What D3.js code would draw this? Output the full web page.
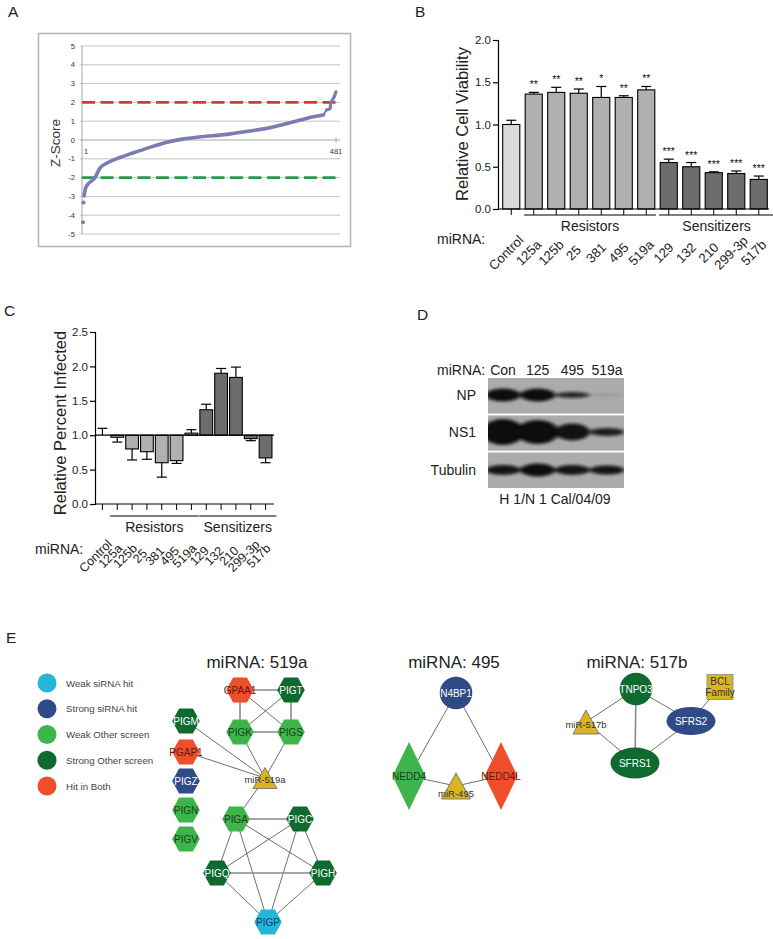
<!DOCTYPE html>
<html><head><meta charset="utf-8">
<script src="https://cdn.jsdelivr.net/npm/d3@7"></script>
<style>body{margin:0;background:#fff}svg{display:block;font-family:"Liberation Sans",Arial,sans-serif}</style>
</head><body><svg id="c" width="773" height="939"></svg>
<script>
// ===== Panel A: ranked Z-scores =====
const zRank  = [1,2,3,6,12,24,33,52,71,97,129,161,192,224,274,318,350,381,413,438,457,463,470,471,476,481];
const zScore = [-4.38,-3.32,-2.97,-2.55,-2.30,-2.00,-1.50,-1.15,-0.93,-0.68,-0.38,-0.12,0.06,0.17,0.30,0.48,0.62,0.83,1.06,1.24,1.33,1.60,1.68,1.94,2.20,2.56];
const zTicks = [-5,-4,-3,-2,-1,0,1,2,3,4,5];
const zThresholds = [2,-2];

// ===== Panels B & C =====
const miRNAs = ["Control","125a","125b","25","381","495","519a","129","132","210","299-3p","517b"];
const miGroup = ["control","res","res","res","res","res","res","sen","sen","sen","sen","sen"];
const viability = [1.00,1.36,1.38,1.37,1.32,1.32,1.41,0.55,0.50,0.43,0.42,0.35];
const viabilityErr = [0.05,0.02,0.06,0.05,0.13,0.02,0.04,0.04,0.05,0.01,0.03,0.04];
const viabilityStars = ["","**","**","**","*","**","**","***","***","***","***","***"];
const viabilityTicks = [0,0.5,1.0,1.5,2.0];
const infected = [1.00,0.97,0.80,0.76,0.60,0.63,1.03,1.37,1.90,1.84,0.95,0.67];
const infectedErr = [0.10,0.07,0.16,0.11,0.21,0.04,0.05,0.08,0.07,0.15,0.03,0.07];
const infectedTicks = [0,0.5,1.0,1.5,2.0,2.5];
const groupNames = ["Resistors","Sensitizers"];

// ===== Panel D: western blot =====
const blotLanes = ["Con","125","495","519a"];
const blotRows = ["NP","NS1","Tubulin"];
const npIntensity = [1.0,1.0,0.85,0.12];
const npThickness = [13,13,6,3];
const ns1Intensity = [1.0,1.0,0.97,0.9];
const ns1Thickness = [26,24,17,8];
const tubIntensity = [0.95,1.0,0.95,0.95];
const tubThickness = [10,13,10,9];
const blotCaption = "H 1/N 1 Cal/04/09";

// ===== Panel E: networks =====
const legendTypes = ["Weak siRNA hit","Strong siRNA hit","Weak Other screen","Strong Other screen","Hit in Both"];
const typeColors = {weakSi:"#22b6d9", strongSi:"#2f4b87", weakOther:"#3db54b", strongOther:"#0f6a30", both:"#ee4e2a", mir:"#d9b521"};
const legendKeys = ["weakSi","strongSi","weakOther","strongOther","both"];
const netTitles = ["miRNA: 519a","miRNA: 495","miRNA: 517b"];
// layout positions (network layout units = px)
const nodes519 = [
  ["GPAA1","both","hex",240,690],["PIGT","strongOther","hex",291,690],
  ["PIGK","weakOther","hex",240,732],["PIGS","weakOther","hex",291,732],
  ["miR-519a","mir","tri",265,778],
  ["PIGM","strongOther","hex",186,721],["PGAP1","both","hex",186,752],["PIGZ","strongSi","hex",186,781],
  ["PIGN","weakOther","hex",186,810],["PIGV","weakOther","hex",186,839],
  ["PIGA","weakOther","hex",236,819],["PIGC","strongOther","hex",300,819],
  ["PIGQ","strongOther","hex",217,873],["PIGH","strongOther","hex",323,873],["PIGP","weakSi","hex",268,922]
];
const edges519 = [
  ["GPAA1","PIGT",1],["GPAA1","PIGK",1],["GPAA1","PIGS",0],["PIGT","PIGK",0],["PIGT","PIGS",1],["PIGK","PIGS",1],
  ["PIGK","miR-519a",0],["PIGS","miR-519a",0],["PIGM","miR-519a",0],["PGAP1","miR-519a",0],["miR-519a","PIGA",0],
  ["PIGA","PIGC",1],["PIGA","PIGQ",0],["PIGA","PIGH",0],["PIGA","PIGP",0],["PIGC","PIGQ",0],["PIGC","PIGH",0],
  ["PIGC","PIGP",0],["PIGQ","PIGH",1],["PIGQ","PIGP",0],["PIGH","PIGP",0]
];
const nodes495 = [
  ["N4BP1","strongSi","circle",456,693],["NEDD4","weakOther","diamond",409,776],
  ["NEDD4L","both","diamond",501,776],["miR-495","mir","tri",456,786]
];
const edges495 = [["N4BP1","NEDD4",0],["N4BP1","NEDD4L",0],["NEDD4","miR-495",0],["NEDD4L","miR-495",0]];
const nodes517 = [
  ["TNPO3","strongOther","circle",636,689],["BCL\nFamily","mir","rect",720,687],
  ["SFRS2","strongSi","ellipse",691,721],["miR-517b","mir","tri",586,722],["SFRS1","strongOther","ellipse",635,763]
];
const edges517 = [["TNPO3","miR-517b",0],["TNPO3","SFRS1",1],["TNPO3","SFRS2",0],["SFRS2","BCL\nFamily",0],["SFRS2","SFRS1",0],["miR-517b","SFRS1",0]];

// =====================================================
const svg = d3.select("#c");
svg.append("rect").attr("width",773).attr("height",939).attr("fill","#fff");
const ink = "#222";

// panel letters
[["A",8,17],["B",415,17],["C",4,316],["D",417,320],["E",6,643]].forEach(([t,x,y])=>
  svg.append("text").attr("x",x).attr("y",y).attr("font-size",15.5).attr("fill",ink).text(t));

// ---------- Panel A ----------
(function(){
  const g = svg.append("g");
  g.append("rect").attr("x",38.5).attr("y",33.5).attr("width",312).attr("height",213)
    .attr("fill","#fff").attr("stroke","#b4b4b4").attr("stroke-width",1.5);
  const x = d3.scaleLinear().domain([1,481]).range([83,336]);
  const y = d3.scaleLinear().domain([-5,5]).range([234,46]);
  zTicks.forEach(t=>{
    g.append("line").attr("x1",80).attr("x2",340).attr("y1",y(t)).attr("y2",y(t))
      .attr("stroke", t===0 ? "#a8a8a8" : "#c4c4c4").attr("stroke-width",1);
    g.append("text").attr("x",75).attr("y",y(t)+2.5).attr("text-anchor","end")
      .attr("font-size",7.5).attr("fill","#333").text(t);
  });
  g.append("line").attr("x1",82).attr("x2",82).attr("y1",y(5)).attr("y2",y(-5)).attr("stroke","#a8a8a8");
  g.append("line").attr("x1",x(481)).attr("x2",x(481)).attr("y1",y(0)-2).attr("y2",y(0)+3).attr("stroke","#a8a8a8");
  g.append("text").attr("x",x(1)+1).attr("y",y(0)+14).attr("font-size",7.5).attr("fill","#333").text("1");
  g.append("text").attr("x",x(481)).attr("y",y(0)+14).attr("text-anchor","middle").attr("font-size",7.5).attr("fill","#333").text("481");
  const colors = ["#d23c2c","#2a9a48"];
  zThresholds.forEach((t,i)=>g.append("line").attr("x1",82).attr("x2",340).attr("y1",y(t)).attr("y2",y(t))
    .attr("stroke",colors[i]).attr("stroke-width",2.6).attr("stroke-dasharray","13,5.5"));
  const pts = zRank.map((r,i)=>[r,zScore[i]]);
  const line = d3.line().x(d=>x(d[0])).y(d=>y(d[1])).curve(d3.curveMonotoneX);
  const brk = zRank.indexOf(457);
  g.append("path").attr("d",line(pts.slice(2,brk+1))).attr("fill","none").attr("stroke","#7a7cb4")
    .attr("stroke-width",3.6).attr("stroke-linecap","round");
  g.append("path").attr("d",line(pts.slice(brk+1))).attr("fill","none").attr("stroke","#7a7cb4")
    .attr("stroke-width",3.2).attr("stroke-linecap","round");
  g.append("path").attr("d",line(pts.slice(brk,brk+2))).attr("fill","none").attr("stroke","#7a7cb4").attr("stroke-width",2);
  pts.slice(0,2).forEach(p=>g.append("circle").attr("cx",x(p[0])).attr("cy",y(p[1])).attr("r",2).attr("fill","#7a7cb4"));
  g.append("text").attr("transform",`translate(60,${y(0)+3}) rotate(-90)`).attr("text-anchor","middle")
    .attr("font-size",13.5).attr("fill","#333").text("Z-Score");
})();

const groupFill = {control:"#dadada", res:"#b0b0b0", sen:"#6d6d6d"};

function catAxis(g, x, y0, labelY, labelDx, groupLineY, fontSize){
  miRNAs.forEach(c=>g.append("line").attr("x1",x(c)+x.bandwidth()/2).attr("x2",x(c)+x.bandwidth()/2)
    .attr("y1",y0).attr("y2",y0+6).attr("stroke","#000").attr("stroke-width",1));
  const resC = miRNAs.filter((c,i)=>miGroup[i]==="res"), senC = miRNAs.filter((c,i)=>miGroup[i]==="sen");
  const step = x.step();
  [[resC,groupNames[0]],[senC,groupNames[1]]].forEach(([cs,name],k)=>{
    const x1 = x(cs[0]) - step*0.05, x2 = x(cs[cs.length-1]) + x.bandwidth() + step*(k===0?0.05:0.3);
    g.append("line").attr("x1",x1).attr("x2",x2).attr("y1",groupLineY).attr("y2",groupLineY).attr("stroke","#000").attr("stroke-width",1.2);
    g.append("text").attr("x",(x1+x2)/2).attr("y",groupLineY+16).attr("text-anchor","middle")
      .attr("font-size",14).attr("fill",ink).text(name);
  });
  miRNAs.forEach(c=>g.append("text").attr("text-anchor","middle").attr("font-size",fontSize).attr("fill",ink)
    .attr("transform",`translate(${x(c)+x.bandwidth()/2+labelDx},${labelY}) rotate(-45)`).text(c));
}

// ---------- Panel B ----------
(function(){
  const g = svg.append("g");
  const x = d3.scaleBand().domain(miRNAs).range([500,770]).paddingInner(0.24).paddingOuter(0.12);
  const y = d3.scaleLinear().domain([0,2]).range([209,40]);
  miRNAs.forEach((c,i)=>{
    const cx = x(c)+x.bandwidth()/2, top = viability[i]+viabilityErr[i];
    g.append("line").attr("x1",cx).attr("x2",cx).attr("y1",y(viability[i])).attr("y2",y(top)).attr("stroke","#000").attr("stroke-width",1.2);
    g.append("line").attr("x1",cx-5).attr("x2",cx+5).attr("y1",y(top)).attr("y2",y(top)).attr("stroke","#000").attr("stroke-width",1.2);
    g.append("rect").attr("x",x(c)).attr("y",y(viability[i])).attr("width",x.bandwidth()).attr("height",y(0)-y(viability[i]))
      .attr("fill",groupFill[miGroup[i]]).attr("stroke","#000").attr("stroke-width",1.1);
    if(viabilityStars[i]) g.append("text").attr("x",cx).attr("y",y(top)-4).attr("text-anchor","middle")
      .attr("font-size",10.5).attr("fill","#111").text(viabilityStars[i]);
  });
  const ax = g.append("g").attr("transform","translate(498,0)")
    .call(d3.axisLeft(y).tickValues(viabilityTicks).tickFormat(d3.format(".1f")).tickSize(5).tickPadding(2));
  ax.select(".domain").attr("stroke","#000").attr("stroke-width",1.2);
  ax.selectAll(".tick line").attr("stroke","#000").attr("stroke-width",1.2);
  ax.selectAll("text").attr("font-size",11.5).attr("fill",ink).attr("font-family",null);
  g.append("line").attr("x1",498).attr("x2",769).attr("y1",y(0)).attr("y2",y(0)).attr("stroke","#000").attr("stroke-width",1.2);
  catAxis(g, x, y(0), 256, -2, 215, 13.2);
  g.append("text").attr("x",437).attr("y",244).attr("font-size",14).attr("fill",ink).text("miRNA:");
  g.append("text").attr("transform","translate(468,124) rotate(-90)").attr("text-anchor","middle")
    .attr("font-size",16.5).attr("fill",ink).text("Relative Cell Viability");
})();

// ---------- Panel C ----------
(function(){
  const g = svg.append("g");
  const x = d3.scaleBand().domain(miRNAs).range([95,273]).paddingInner(0.14).paddingOuter(0.07);
  const y = d3.scaleLinear().domain([0,2.5]).range([504,332]);
  miRNAs.forEach((c,i)=>{
    const cx = x(c)+x.bandwidth()/2, v = infected[i];
    const dir = v >= 1 ? 1 : -1;
    const e = v + dir*infectedErr[i];
    g.append("line").attr("x1",cx).attr("x2",cx).attr("y1",y(v)).attr("y2",y(e)).attr("stroke","#000").attr("stroke-width",1.2);
    g.append("line").attr("x1",cx-5).attr("x2",cx+5).attr("y1",y(e)).attr("y2",y(e)).attr("stroke","#000").attr("stroke-width",1.2);
    if(miGroup[i]!=="control") g.append("rect").attr("x",x(c)).attr("y",Math.min(y(v),y(1))).attr("width",x.bandwidth())
      .attr("height",Math.abs(y(v)-y(1))).attr("fill",groupFill[miGroup[i]]).attr("stroke","#000").attr("stroke-width",1.1);
  });
  g.append("line").attr("x1",95).attr("x2",274).attr("y1",y(1)).attr("y2",y(1)).attr("stroke","#000").attr("stroke-width",1.2);
  const ax = g.append("g").attr("transform","translate(95,0)")
    .call(d3.axisLeft(y).tickValues(infectedTicks).tickFormat(d3.format(".1f")).tickSize(5).tickPadding(2));
  ax.select(".domain").attr("stroke","#000").attr("stroke-width",1.2);
  ax.selectAll(".tick line").attr("stroke","#000").attr("stroke-width",1.2);
  ax.selectAll("text").attr("font-size",11.5).attr("fill",ink).attr("font-family",null);
  g.append("line").attr("x1",95).attr("x2",274).attr("y1",y(0)).attr("y2",y(0)).attr("stroke","#000").attr("stroke-width",1.2);
  catAxis(g, x, y(0), 559, -4, 516, 12.5);
  g.append("text").attr("x",35).attr("y",554).attr("font-size",14).attr("fill",ink).text("miRNA:");
  g.append("text").attr("transform","translate(66,423) rotate(-90)").attr("text-anchor","middle")
    .attr("font-size",16.5).attr("fill",ink).text("Relative Percent Infected");
})();

// ---------- Panel D ----------
(function(){
  const g = svg.append("g");
  const defs = svg.append("defs");
  const f = defs.append("filter").attr("id","blur").attr("x","-30%").attr("y","-60%").attr("width","160%").attr("height","220%");
  f.append("feGaussianBlur").attr("stdDeviation","2.2 1.6");
  const lane = d3.scalePoint().domain(blotLanes).range([503,607]);
  const row = d3.scaleBand().domain(blotRows).range([378,488]).paddingInner(0.04);
  const rowCenters = {NP:395, NS1:432, Tubulin:470};
  const data = {NP:[npIntensity,npThickness], NS1:[ns1Intensity,ns1Thickness], Tubulin:[tubIntensity,tubThickness]};
  blotRows.forEach(r=>{
    const cp = "clip"+r;
    defs.append("clipPath").attr("id",cp).append("rect").attr("x",488).attr("y",row(r)).attr("width",136).attr("height",row.bandwidth());
    const rg = g.append("g").attr("clip-path",`url(#${cp})`);
    rg.append("rect").attr("x",488).attr("y",row(r)).attr("width",136).attr("height",row.bandwidth()).attr("fill","#ababab");
    const [inten, thick] = data[r];
    const bg = rg.append("g").attr("filter","url(#blur)");
    blotLanes.forEach((l,i)=>{
      bg.append("ellipse").attr("cx",lane(l)).attr("cy",rowCenters[r]).attr("rx",r==="NS1"&&i<2?21:17.5).attr("ry",thick[i]/2)
        .attr("fill","#0d0d0d").attr("opacity",inten[i]);
    });
    g.append("text").attr("x",476).attr("y",rowCenters[r]+5).attr("text-anchor","end").attr("font-size",14).attr("fill",ink).text(r);
  });
  g.append("text").attr("x",437).attr("y",375).attr("font-size",14).attr("fill",ink).text("miRNA:");
  blotLanes.forEach(l=>g.append("text").attr("x",lane(l)).attr("y",375).attr("text-anchor","middle").attr("font-size",14).attr("fill",ink).text(l));
  g.append("text").attr("x",555).attr("y",504).attr("text-anchor","middle").attr("font-size",14).attr("fill",ink).text(blotCaption);
})();

// ---------- Panel E ----------
(function(){
  const g = svg.append("g");
  const ly = d3.scalePoint().domain(legendTypes).range([683,786]);
  legendTypes.forEach((t,i)=>{
    g.append("circle").attr("cx",47).attr("cy",ly(t)).attr("r",9.5).attr("fill",typeColors[legendKeys[i]]);
    g.append("text").attr("x",66).attr("y",ly(t)+3.5).attr("font-size",9.7).attr("fill","#444").text(t);
  });
  const titlePos = [[257,668],[454,668],[637,668]];
  netTitles.forEach((t,i)=>g.append("text").attr("x",titlePos[i][0]).attr("y",titlePos[i][1]).attr("text-anchor","middle")
    .attr("font-size",17).attr("fill",ink).text(t));
  const darkText = {weakSi:"#1d3a70", strongSi:"#fff", weakOther:"#1a3b22", strongOther:"#fff", both:"#5a1a10", mir:"#333"};
  function drawNet(nodes, edges){
    const pos = {}; nodes.forEach(n=>pos[n[0]]=n);
    edges.forEach(([a,b,w])=>g.append("line").attr("x1",pos[a][3]).attr("y1",pos[a][4]).attr("x2",pos[b][3]).attr("y2",pos[b][4])
      .attr("stroke", w? "#8a8a8a":"#4a4a4a").attr("stroke-width", w?1.6:0.8));
    nodes.forEach(([name,type,shape,cx,cy])=>{
      const col = typeColors[type];
      let fs = 10, ty = cy+3.5;
      if(shape==="hex"){
        const r=13.8, h=12.5;
        g.append("path").attr("d",`M${cx-r},${cy}L${cx-r/2},${cy-h}L${cx+r/2},${cy-h}L${cx+r},${cy}L${cx+r/2},${cy+h}L${cx-r/2},${cy+h}Z`).attr("fill",col);
      } else if(shape==="tri"){
        const w = name==="miR-519a"?24: name==="miR-495"?29:26, h = name==="miR-519a"?21: name==="miR-495"?26:24;
        g.append("path").attr("d",`M${cx},${cy-h/2}L${cx+w/2},${cy+h/2}L${cx-w/2},${cy+h/2}Z`).attr("fill",col).attr("stroke","#666").attr("stroke-width",0.8);
        fs = 9.5; ty = name==="miR-495"? cy+11 : name==="miR-517b"? cy+6 : cy+5;
      } else if(shape==="circle"){
        g.append("circle").attr("cx",cx).attr("cy",cy).attr("r",16.3).attr("fill",col);
      } else if(shape==="diamond"){
        g.append("path").attr("d",`M${cx},${cy-34}L${cx+16.5},${cy}L${cx},${cy+34}L${cx-16.5},${cy}Z`).attr("fill",col);
      } else if(shape==="ellipse"){
        g.append("ellipse").attr("cx",cx).attr("cy",cy).attr("rx",24.5).attr("ry",type==="strongSi"?14:15.5).attr("fill",col);
      } else if(shape==="rect"){
        g.append("rect").attr("x",cx-13).attr("y",cy-12.5).attr("width",26).attr("height",25).attr("fill",col).attr("stroke","#888").attr("stroke-width",0.8);
      }
      const lines = name.split("\n");
      const tc = shape==="tri"||shape==="rect" ? "#333" : darkText[type];
      const t = g.append("text").attr("text-anchor","middle").attr("font-size",fs).attr("fill",tc);
      if(lines.length>1){
        t.append("tspan").attr("x",cx).attr("y",cy-2).text(lines[0]);
        t.append("tspan").attr("x",cx).attr("y",cy+9).text(lines[1]);
      } else t.attr("x",cx).attr("y",ty).text(name);
    });
  }
  drawNet(nodes519, edges519);
  drawNet(nodes495, edges495);
  drawNet(nodes517, edges517);
})();
</script></body></html>
